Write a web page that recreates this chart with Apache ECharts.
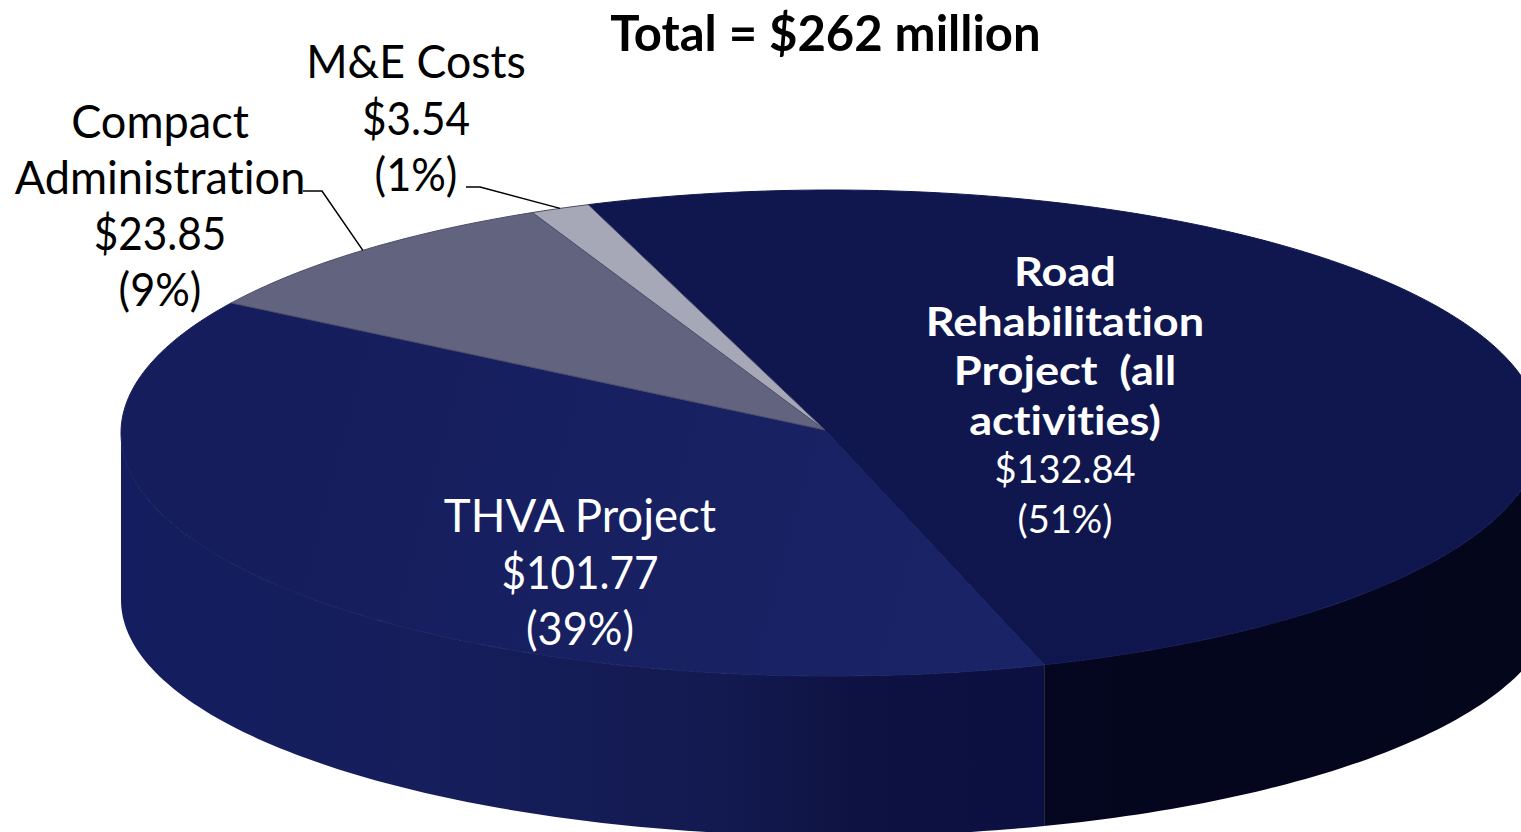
<!DOCTYPE html>
<html>
<head>
<meta charset="utf-8">
<style>
  html, body { margin: 0; background: #fff; }
  #chart { width: 1521px; height: 832px; }
  /* Gill Sans in the source has no "ti" ligature, Lato does */
  #chart text { font-variant-ligatures: none; }
</style>
<script src="https://cdn.jsdelivr.net/npm/echarts@6/dist/echarts.min.js"></script>
</head>
<body>
<div id="chart"></div>
<script>
// slices, clockwise from the M&E / Road seam
const sliceNames = [
  ['Road', 'Rehabilitation', 'Project  (all', 'activities)'],
  ['THVA Project'],
  ['Compact', 'Administration'],
  ['M&E Costs']
];
const sliceValues = [132.84, 101.77, 23.85, 3.54];
const slicePercents = ['51%', '39%', '9%', '1%'];
const totalLabel = 'Total = $262 million';

// pie drawing: top face ellipse, and the (slightly offset) ellipse of the bottom edge
const topFace = { cx: 831, cy: 433, rx: 710, ry: 243 };
const bottomEdge = { cx: 838, cy: 600, rx: 717, ry: 236 };
const apex = [825, 430];
const startAngle = -20;
const total = sliceValues.reduce((a, b) => a + b, 0);

// each fill runs along a line: [x0, y0, x1, y1, colour0, colour1]
const topFills = [
  [0, 433, 0, 676, '#10174f', '#0f164e'],
  [200, 450, 1000, 660, '#151d5c', '#1a2366'],
  [0, 433, 0, 676, '#62647f', '#6a6c86'],
  [0, 433, 0, 676, '#a6a8b8', '#a8aaba']
];
// label blocks: centre x, centre y of first line, line step, font size and width scale of the name lines
const labelLayout = [
  { x: 1065, y: 270, step: 49.6, nameSize: 41, nameScale: 1.1, bold: true, fill: '#fff', size: 38, valueScale: 1, pctScale: 1 },
  { x: 580, y: 514, step: 56.5, nameSize: 46, nameScale: 0.99, bold: false, fill: '#fff', size: 46, valueScale: 0.92, pctScale: 0.94 },
  { x: 160, y: 120, step: 56, nameSize: 46, nameScale: 0.98, bold: false, fill: '#000', size: 46, valueScale: 0.92, pctScale: 0.94 },
  { x: 416, y: 60, step: 56.5, nameSize: 46, nameScale: 0.97, bold: false, fill: '#000', size: 46, valueScale: 0.92, pctScale: 0.94 }
];
// where the leader lines leave their labels (elbow goes horizontally first)
const leaders = [null, null, [[303, 191], [322, 191]], [[466, 187], [480, 187]]];

const fromTotal = i => sliceValues.slice(0, i).reduce((a, b) => a + b, 0);
const angleAt = v => startAngle + (v / total) * 360;

// angle in degrees clockwise from the top of the ellipse
function rim(e, deg) {
  const t = (deg * Math.PI) / 180;
  return [e.cx + e.rx * Math.sin(t), e.cy - e.ry * Math.cos(t)];
}

function arc(e, from, to) {
  const pts = [];
  const n = Math.max(2, Math.ceil(Math.abs(to - from)));
  for (let i = 0; i <= n; i++) pts.push(rim(e, from + ((to - from) * i) / n));
  return pts;
}

// angle on the bottom edge straight below a front angle of the top face, so seams stay vertical
function below(deg) {
  const x = rim(topFace, deg)[0];
  const s = Math.max(-1, Math.min(1, (x - bottomEdge.cx) / bottomEdge.rx));
  return 180 - (Math.asin(s) * 180) / Math.PI;
}

function wallFill(i) {
  if (i === 0) {
    return new echarts.graphic.LinearGradient(1040, 0, 1521, 0, [
      { offset: 0, color: '#05061f' },
      { offset: 1, color: '#04061c' }
    ], true);
  }
  return new echarts.graphic.LinearGradient(121, 0, 1045, 0, [
    { offset: 0, color: '#141d5f' },
    { offset: 0.33, color: '#161e5c' },
    { offset: 0.65, color: '#131a50' },
    { offset: 0.8, color: '#0e1242' },
    { offset: 1, color: '#0c1040' }
  ], true);
}

function renderWall(params, api) {
  const i = params.dataIndex;
  const a0 = Math.max(angleAt(fromTotal(i)), 90);
  const a1 = Math.min(angleAt(fromTotal(i) + api.value(0)), 270);
  if (a1 <= a0) return null;
  const points = arc(topFace, a0, a1).concat(arc(bottomEdge, below(a1), below(a0)));
  return { type: 'polygon', shape: { points }, style: { fill: wallFill(i) } };
}

function renderTop(params, api) {
  const i = params.dataIndex;
  const a0 = angleAt(fromTotal(i));
  const a1 = a0 + (api.value(0) / total) * 360;
  const f = topFills[i];
  const fill = new echarts.graphic.LinearGradient(f[0], f[1], f[2], f[3], [
    { offset: 0, color: f[4] },
    { offset: 1, color: f[5] }
  ], true);
  const children = [{
    type: 'polygon',
    shape: { points: [apex].concat(arc(topFace, a0, a1)) },
    style: {
      fill,
      stroke: i > 1 ? '#4b4d6a' : fill,
      lineWidth: 1
    }
  }];
  if (leaders[i]) {
    children.push({
      type: 'polyline',
      shape: { points: leaders[i].concat([rim(topFace, (a0 + a1) / 2)]) },
      style: { fill: null, stroke: '#000', lineWidth: 1.5 }
    });
  }
  return { type: 'group', children };
}

function renderLabel(params, api) {
  const i = params.dataIndex;
  const pos = labelLayout[i];
  const lines = sliceNames[i].map(t => ({ t, size: pos.nameSize, scale: pos.nameScale, bold: pos.bold }));
  lines.push({ t: '$' + api.value(0).toFixed(2), size: pos.size, scale: pos.valueScale });
  lines.push({ t: '(' + slicePercents[i] + ')', size: pos.size, scale: pos.pctScale });
  return {
    type: 'group',
    children: lines.map((line, k) => ({
      type: 'text',
      x: pos.x,
      y: pos.y + k * pos.step,
      scaleX: line.scale,
      style: {
        text: line.t,
        fill: pos.fill,
        fontFamily: 'Lato',
        fontSize: line.size,
        fontWeight: line.bold ? 'bold' : 'normal',
        textAlign: 'center',
        textVerticalAlign: 'middle'
      }
    }))
  };
}

const chart = echarts.init(document.getElementById('chart'), null, { renderer: 'svg' });
const rows = sliceValues.map(v => [v]);
chart.setOption({
  animation: false,
  backgroundColor: '#fff',
  title: {
    text: totalLabel,
    left: 820.5,
    top: 2,
    textAlign: 'center',
    textStyle: { fontFamily: 'Lato', fontWeight: 'bold', fontSize: 49, color: '#000' }
  },
  series: [
    { type: 'custom', coordinateSystem: 'none', silent: true, z: 1, data: rows, renderItem: renderWall },
    { type: 'custom', coordinateSystem: 'none', silent: true, z: 2, data: rows, renderItem: renderTop },
    { type: 'custom', coordinateSystem: 'none', silent: true, z: 3, data: rows, renderItem: renderLabel }
  ]
});
</script>
</body>
</html>
